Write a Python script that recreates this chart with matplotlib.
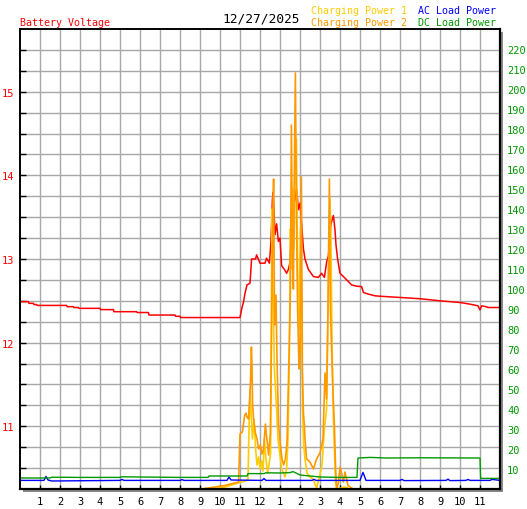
import numpy as np
import matplotlib
matplotlib.use("Agg")
import matplotlib.pyplot as plt
from matplotlib.patches import Rectangle
from matplotlib.ticker import FixedLocator, NullFormatter

# ---------------- data ----------------
title_date = "12/27/2025"
hour_ticks = list(range(1, 24))
hour_labels = [str(h) for h in range(1, 12)] + ["12"] + [str(h) for h in range(1, 12)]
volt_ticks = [11, 12, 13, 14, 15]
power_ticks = list(range(10, 230, 10))

# Battery voltage (V) vs hour of day
volt_t = [0, 0.42, 0.45, 0.67, 0.7, 0.83, 0.86, 2.33, 2.36, 2.67, 2.7, 2.92, 2.95,
          4.0, 4.03, 4.67, 4.7, 5.83, 5.86, 6.42, 6.45, 7.75, 7.78, 8.0, 8.03, 11.0,
          11.05, 11.1, 11.17, 11.25, 11.35, 11.5, 11.58, 11.78, 11.83, 12.0, 12.25,
          12.33, 12.47, 12.55, 12.62, 12.66, 12.75, 12.83, 12.92, 13.0, 13.08, 13.22,
          13.33, 13.42, 13.5, 13.55, 13.58, 13.67, 13.75, 13.83, 13.92, 14.0, 14.08,
          14.17, 14.25, 14.42, 14.67, 14.92, 15.08, 15.22, 15.33, 15.42, 15.5, 15.55,
          15.67, 15.75, 15.8, 15.88, 16.0, 16.17, 16.42, 16.58, 16.83, 17.08, 17.17,
          17.42, 17.75, 18.0, 19.0, 20.0, 21.0, 22.0, 22.5, 22.9, 23.0, 23.08, 23.3,
          23.4, 24.0]
volt_v = [12.49, 12.49, 12.47, 12.47, 12.455, 12.455, 12.445, 12.445, 12.43, 12.43,
          12.42, 12.42, 12.41, 12.41, 12.395, 12.395, 12.37, 12.37, 12.36, 12.36,
          12.33, 12.33, 12.315, 12.315, 12.30, 12.30,
          12.36, 12.42, 12.48, 12.59, 12.69, 12.71, 13.0, 13.0, 13.05, 12.95, 12.95,
          13.01, 12.95, 13.21, 13.71, 13.8, 13.29, 13.42, 13.21, 13.25, 12.92, 12.875,
          12.83, 12.875, 12.96, 13.29, 13.59, 13.625, 13.71, 13.84, 13.59, 13.67, 13.42,
          13.125, 13.0, 12.875, 12.79, 12.78, 12.83, 12.78, 12.96, 13.04, 13.29, 13.42,
          13.52, 13.35, 13.17, 13.0, 12.83, 12.79, 12.73, 12.69, 12.675, 12.67, 12.6,
          12.58, 12.56, 12.555, 12.54, 12.525, 12.50, 12.48, 12.46, 12.44, 12.39, 12.44,
          12.43, 12.42, 12.42]

# Charging Power 1 (W)
cp1_t = [0, 8.6, 8.62, 9.63, 9.65, 10.25, 10.75, 11.25, 11.4, 11.45, 11.5, 11.55, 11.62,
         11.7, 11.78, 11.85, 11.93, 12.0, 12.08, 12.15, 12.22, 12.3, 12.38, 12.45, 12.53,
         12.6, 12.65, 12.72, 12.83, 12.9, 13.0, 13.08, 13.17, 13.25, 13.33, 13.4, 13.47,
         13.52, 13.57, 13.63, 13.7, 13.75, 13.82, 13.88, 13.95, 14.02, 14.08, 14.13,
         14.18, 14.25, 14.35, 14.5, 14.65, 14.83, 14.95, 15.1, 15.22, 15.33, 15.42, 15.5,
         15.55, 15.6, 15.67, 15.72, 15.78, 15.85, 16.25, 16.5, 24.0]
cp1_v = [0, 0, np.nan, np.nan, 0, 1, 2.5, 4, 4.5, 30, 50, 40, 25,
         35, 20, 12, 16, 10, 14, 9, 25, 15, 8, 12, 18,
         140, 100, 60, 40, 25, 17, 10, 8, 6, 10, 25, 70,
         130, 110, 150, 120, 165, 175, 110, 80, 130, 90, 40,
         22, 15, 8, 6, 5, 0.5, 5, 12, 30, 40, 100, 145,
         125, 75, 35, 20, 3, 0, 1, 0, 0]

# Charging Power 2 (W)
cp2_t = [0, 8.6, 8.62, 9.23, 9.25, 9.75, 10.25, 10.65, 10.85, 10.93, 11.0, 11.12, 11.23,
         11.3, 11.35, 11.43, 11.52, 11.57, 11.6, 11.63, 11.68, 11.77, 11.85, 11.93, 12.02,
         12.1, 12.18, 12.27, 12.32, 12.38, 12.43, 12.52, 12.57, 12.63, 12.68, 12.73, 12.8,
         12.85, 12.93, 13.02, 13.1, 13.18, 13.27, 13.35, 13.43, 13.52, 13.57, 13.62, 13.67,
         13.72, 13.77, 13.82, 13.88, 13.95, 14.0, 14.07, 14.12, 14.17, 14.22, 14.25, 14.33,
         14.5, 14.67, 14.83, 15.0, 15.15, 15.25, 15.33, 15.4, 15.47, 15.52, 15.58, 15.65,
         15.72, 15.78, 15.83, 15.92, 16.0, 16.08, 16.17, 16.25, 16.4, 16.65, 24.0]
cp2_v = [0, 0, np.nan, np.nan, 0.3, 1, 1.8, 2.8, 3.3, 3.5, 27.5, 28.5, 36.7,
         38, 36, 35, 52, 71, 62, 42, 35, 28, 25, 20, 22,
         17.5, 20, 32.5, 27, 22, 17, 28, 73, 130, 155, 82, 97,
         65, 32, 22, 15, 12, 15, 23, 57, 98, 182, 120, 100,
         162, 208, 140, 90, 60, 70, 156, 60, 38, 32, 25, 15,
         13.5, 10, 15, 18, 25, 58, 45, 92, 155, 90, 70, 48,
         32, 10, 0, 3, 11, 8, 3.5, 8.5, 1.7, 0, 0]

# AC Load Power (W)
ac_t = [0, 1.2, 1.3, 1.4, 1.6, 5.0, 5.1, 5.2, 8.0, 8.1, 8.2, 10.35, 10.45, 10.55,
        12.1, 12.2, 12.3, 13.5, 14.6, 14.7, 14.8, 17.0, 17.15, 17.3, 19.0, 19.1, 19.2,
        21.3, 21.4, 21.5, 22.3, 22.4, 22.5, 23.5, 23.6, 24.0]
ac_v = [4.3, 4.3, 6.3, 4.5, 4.0, 4.3, 4.8, 4.3, 4.3, 4.7, 4.3, 4.3, 6.0, 4.5,
        4.3, 5.2, 4.3, 4.3, 4.3, 4.8, 4.3, 4.3, 8.3, 4.3, 4.3, 4.8, 4.2,
        4.3, 4.9, 4.2, 4.3, 4.8, 4.3, 4.3, 4.8, 4.3]

# DC Load Power (W)
dc_t = [0, 1.5, 1.6, 3.0, 5.0, 5.1, 8.0, 9.4, 9.45, 11.35, 11.4, 12.2, 12.3, 13.0,
        13.5, 13.65, 13.8, 14.0, 14.3, 15.0, 16.0, 16.85, 16.9, 17.5, 18.3, 20.0,
        23.0, 23.03, 24.0]
dc_v = [5.5, 5.5, 5.9, 5.8, 5.8, 6.1, 5.8, 5.8, 6.5, 6.5, 7.7, 7.7, 8.1, 8.0,
        8.2, 8.7, 8.0, 7.0, 6.7, 6.0, 5.8, 5.8, 15.5, 15.8, 15.5, 15.6,
        15.5, 5.3, 5.3]

# ---------------- styling ----------------
W, H = 527, 510
RED = "#FF0000"
GOLD = "#FFCC00"
ORANGE = "#FF9900"
BLUE = "#0000FF"
GREEN = "#009900"
GRID = "#A8A8A8"
MONO = "DejaVu Sans Mono"

fig = plt.figure(figsize=(W / 100, H / 100), dpi=100)
fig.patch.set_facecolor("white")

L, B, PW, PH = 20, 20, 480, 460
# drop shadow
fig.patches.append(Rectangle(((L + 3) / W, (B - 3) / H), PW / W, PH / H,
                             transform=fig.transFigure, facecolor="#888888",
                             edgecolor="none", zorder=-5))
ax = fig.add_axes([L / W, B / H, PW / W, PH / H])
ax.set_facecolor("white")
ax.set_xlim(0, 24)
ax.set_ylim(10.25, 15.75)

ax.xaxis.set_major_locator(FixedLocator(hour_ticks))
ax.set_xticklabels(hour_labels)
ax.yaxis.set_major_locator(FixedLocator(volt_ticks))
ax.yaxis.set_minor_locator(FixedLocator(list(np.arange(10.5, 15.75, 0.25))))
ax.yaxis.set_minor_formatter(NullFormatter())
ax.grid(True, which="major", axis="x", color=GRID, lw=1.0)
ax.grid(True, which="both", axis="y", color=GRID, lw=1.0)
ax.set_axisbelow(True)

ax.tick_params(axis="x", direction="in", length=3, width=1, colors="black",
               labelsize=7.5, pad=5)
ax.tick_params(axis="y", which="both", direction="in", length=4, width=1,
               colors="black", labelsize=7.5, pad=4, labelcolor=RED)
for lab in ax.get_xticklabels() + ax.get_yticklabels():
    lab.set_fontfamily(MONO)

ax.plot(volt_t, volt_v, color=RED, lw=1.1, zorder=3)

ax2 = ax.twinx()
ax2.set_ylim(0, 230)
ax2.yaxis.set_major_locator(FixedLocator(power_ticks))
ax2.tick_params(axis="y", length=0, labelsize=7.5, pad=5, labelcolor=GREEN)
for lab in ax2.get_yticklabels():
    lab.set_fontfamily(MONO)

ax2.plot(cp1_t, cp1_v, color=GOLD, lw=1.2, zorder=3)
ax2.plot(cp2_t, cp2_v, color=ORANGE, lw=1.2, zorder=4)
ax2.plot(ac_t, ac_v, color=BLUE, lw=1.0, zorder=5)
ax2.plot(dc_t, dc_v, color=GREEN, lw=1.0, zorder=6)

for a in (ax, ax2):
    for s in a.spines.values():
        s.set_color("black")
        s.set_linewidth(1.2)
        s.set_zorder(10)
ax2.spines["right"].set_linewidth(1.6)
ax2.spines["bottom"].set_linewidth(1.6)

def ft(px, py, s, color, size, ha="left"):
    fig.text(px / W, 1 - py / H, s, color=color, fontsize=size, family=MONO,
             ha=ha, va="center")

ft(20, 23, "Battery Voltage", RED, 7.2)
ft(222, 19, title_date, "black", 9.3)
ft(311, 11, "Charging Power 1", GOLD, 7.2)
ft(311, 23, "Charging Power 2", ORANGE, 7.2)
ft(418, 11, "AC Load Power", BLUE, 7.2)
ft(418, 23, "DC Load Power", GREEN, 7.2)

fig.savefig("out.png", dpi=100, facecolor="white")
